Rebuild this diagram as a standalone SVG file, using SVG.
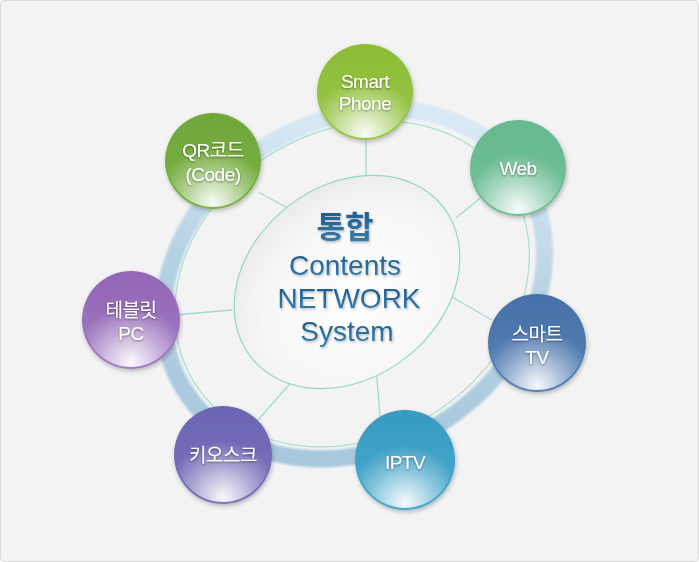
<svg xmlns="http://www.w3.org/2000/svg" width="699" height="562" viewBox="0 0 699 562">
<style>
.lbl{font-family:"Liberation Sans","Noto Sans CJK KR",sans-serif;font-size:19px;fill:#fff;text-anchor:middle;letter-spacing:-0.5px;filter:url(#ts)}
.spoke{stroke:#9fdccf;stroke-width:1.3;fill:none}
.ctr{font-family:"Liberation Sans","Noto Sans CJK KR",sans-serif;text-anchor:middle;fill:url(#tg);filter:url(#ts2)}
</style>
<defs>
<filter id="ts" x="-20%" y="-20%" width="140%" height="140%"><feDropShadow dx="0" dy="1" stdDeviation="1" flood-color="#000" flood-opacity="0.45"/></filter>
<filter id="ts2" x="-20%" y="-20%" width="140%" height="140%"><feDropShadow dx="1" dy="1.5" stdDeviation="0.8" flood-color="#000" flood-opacity="0.25"/></filter>
<filter id="sh" x="-30%" y="-30%" width="160%" height="160%"><feDropShadow dx="1" dy="2" stdDeviation="2" flood-color="#000" flood-opacity="0.25"/></filter>
<filter id="blur"><feGaussianBlur stdDeviation="1.2"/></filter>
<linearGradient id="tg" x1="0" y1="0" x2="0" y2="1"><stop offset="0" stop-color="#1a5686"/><stop offset="1" stop-color="#3a82ae"/></linearGradient>
<linearGradient id="ring" x1="0" y1="1" x2="1" y2="0"><stop offset="0" stop-color="#a3c4da"/><stop offset="0.5" stop-color="#b5d1e4"/><stop offset="0.8" stop-color="#d6e7f4"/><stop offset="1" stop-color="#e1edf7"/></linearGradient>
<radialGradient id="cg" cx="0.5" cy="0.6" r="0.6"><stop offset="0" stop-color="#ffffff"/><stop offset="0.7" stop-color="#f7f7f7"/><stop offset="1" stop-color="#ebebeb"/></radialGradient>
<radialGradient id="hl" cx="0.5" cy="0.95" r="0.6"><stop offset="0" stop-color="#fff" stop-opacity="0.95"/><stop offset="0.6" stop-color="#fff" stop-opacity="0.35"/><stop offset="1" stop-color="#fff" stop-opacity="0"/></radialGradient>
<linearGradient id="gSP" x1="0" y1="0" x2="0" y2="1"><stop offset="0" stop-color="#8dbd35"/><stop offset="1" stop-color="#98c54a"/></linearGradient>
<linearGradient id="gQR" x1="0" y1="0" x2="0" y2="1"><stop offset="0" stop-color="#70a73a"/><stop offset="1" stop-color="#7bb247"/></linearGradient>
<linearGradient id="gWB" x1="0" y1="0" x2="0" y2="1"><stop offset="0" stop-color="#67b990"/><stop offset="1" stop-color="#72c09a"/></linearGradient>
<linearGradient id="gTV" x1="0" y1="0" x2="0" y2="1"><stop offset="0" stop-color="#4570a8"/><stop offset="1" stop-color="#5a82b6"/></linearGradient>
<linearGradient id="gIP" x1="0" y1="0" x2="0" y2="1"><stop offset="0" stop-color="#369bc3"/><stop offset="1" stop-color="#4aa8cc"/></linearGradient>
<linearGradient id="gKI" x1="0" y1="0" x2="0" y2="1"><stop offset="0" stop-color="#6a64b3"/><stop offset="1" stop-color="#7a74bc"/></linearGradient>
<linearGradient id="gTB" x1="0" y1="0" x2="0" y2="1"><stop offset="0" stop-color="#9265b6"/><stop offset="1" stop-color="#a27cc2"/></linearGradient>
</defs>
<rect x="0.5" y="0.5" width="698" height="561" rx="4" fill="#f3f3f3" stroke="#d9d9d9"/>
<g id="ring-group">
<ellipse cx="354" cy="284" rx="200" ry="164" transform="rotate(-32 354 284)" fill="none" stroke="url(#ring)" stroke-width="17" filter="url(#blur)"/>
<ellipse cx="352" cy="284" rx="186" ry="153" transform="rotate(-32 352 284)" fill="none" stroke="#a8dfd1" stroke-width="1.2"/>
</g>
<g id="connectors">
<line class="spoke" x1="366" y1="184" x2="366" y2="138"/>
<line class="spoke" x1="258" y1="192" x2="295" y2="212"/>
<line class="spoke" x1="456" y1="218" x2="490" y2="190"/>
<line class="spoke" x1="175" y1="315" x2="232" y2="310"/>
<line class="spoke" x1="452" y1="297" x2="492" y2="320"/>
<line class="spoke" x1="376" y1="367" x2="380" y2="416"/>
<line class="spoke" x1="295" y1="378" x2="258" y2="420"/>
</g>
<g id="center">
<ellipse cx="347" cy="282" rx="122" ry="96" transform="rotate(-38 347 282)" fill="url(#cg)" stroke="#8fd8c6" stroke-width="1.2"/>
<text class="ctr" x="345" y="238" font-size="31" font-weight="bold" style="font-family:'Noto Sans CJK KR',sans-serif">통합</text>
<text class="ctr" x="345" y="275" font-size="28">Contents</text>
<text class="ctr" x="349" y="308" font-size="28">NETWORK</text>
<text class="ctr" x="347" y="341" font-size="28">System</text>
</g>
<g id="node-smartphone" filter="url(#sh)">
<circle cx="365" cy="92" r="48" fill="url(#gSP)"/>
<circle cx="365" cy="92" r="46" fill="url(#hl)"/>
<text class="lbl" x="365" y="88">Smart</text>
<text class="lbl" x="365" y="110">Phone</text>
</g>
<g id="node-qr" filter="url(#sh)">
<circle cx="213" cy="161" r="48" fill="url(#gQR)"/>
<circle cx="213" cy="161" r="46" fill="url(#hl)"/>
<text class="lbl" x="213" y="157">QR코드</text>
<text class="lbl" x="213" y="181">(Code)</text>
</g>
<g id="node-web" filter="url(#sh)">
<circle cx="518" cy="168" r="48" fill="url(#gWB)"/>
<circle cx="518" cy="168" r="46" fill="url(#hl)"/>
<text class="lbl" x="518" y="175">Web</text>
</g>
<g id="node-tablet" filter="url(#sh)">
<circle cx="131" cy="320" r="49" fill="url(#gTB)"/>
<circle cx="131" cy="320" r="47" fill="url(#hl)"/>
<text class="lbl" x="131" y="317">테블릿</text>
<text class="lbl" x="131" y="340">PC</text>
</g>
<g id="node-smarttv" filter="url(#sh)">
<circle cx="537" cy="343" r="49" fill="url(#gTV)"/>
<circle cx="537" cy="343" r="47" fill="url(#hl)"/>
<text class="lbl" x="537" y="341">스마트</text>
<text class="lbl" x="537" y="364">TV</text>
</g>
<g id="node-kiosk" filter="url(#sh)">
<circle cx="223" cy="455" r="49" fill="url(#gKI)"/>
<circle cx="223" cy="455" r="47" fill="url(#hl)"/>
<text class="lbl" x="223" y="462">키오스크</text>
</g>
<g id="node-iptv" filter="url(#sh)">
<circle cx="405" cy="460" r="50" fill="url(#gIP)"/>
<circle cx="405" cy="460" r="48" fill="url(#hl)"/>
<text class="lbl" x="405" y="469">IPTV</text>
</g>
</svg>
